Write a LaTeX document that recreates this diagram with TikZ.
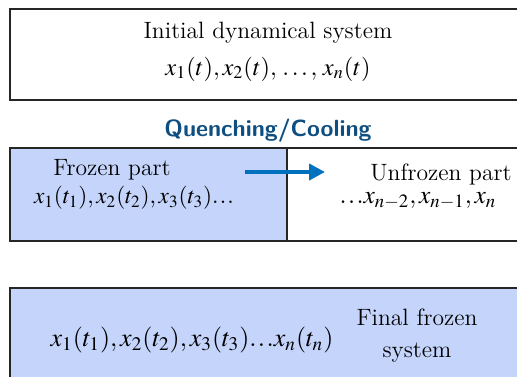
\documentclass[tikz,border=0pt]{standalone}
\usepackage{mathptmx}
\renewcommand{\rmdefault}{cmr}
\usetikzlibrary{arrows.meta,positioning}
\definecolor{titleblue}{RGB}{14,78,128}
\definecolor{arrowblue}{RGB}{0,114,189}
\definecolor{frozenfill}{RGB}{196,212,250}
\newcommand{\tightdots}{{.}\mkern1mu{.}\mkern1mu{.}}
\tikzset{
  frame/.style={draw=black!85, line width=0.9pt},
  txt/.style={inner sep=0pt, font=\fontsize{11.8}{13}\selectfont},
  mth/.style={inner sep=0pt, font=\fontsize{#1}{15}\selectfont},
}
\begin{document}
\begin{tikzpicture}[x=0.5pt,y=-0.5pt]
  \clip (0,0) rectangle (517,376);
  % boxes
  \draw[frame] (10,9) rectangle (540,100);
  \draw[frame, fill=frozenfill] (10,148) rectangle (287,241);
  \draw[frame] (287,148) rectangle (540,241);
  \draw[frame, fill=frozenfill] (10,288) rectangle (540,400);
  % texts
  \node[txt] (init) at (268,33) {Initial dynamical system};
  \node[mth=12.2] (initvars) at (268,69) {$x_1(t), x_2(t),\, \ldots,\, x_n(t)$};
  \node[inner sep=0pt, text=titleblue, font=\fontsize{11.7}{14}\sffamily\bfseries] (quench) at (268,131) {Quenching/Cooling};
  \node[txt] (frozen) at (112,170) {Frozen part};
  \node[mth=11.6] (frozenvars) at (134,198) {$x_1(t_1), x_2(t_2), x_3(t_3)\tightdots$};
  \node[txt] (unfrozen) at (441,174) {Unfrozen part};
  \node[mth=12.7] (unfrozenvars) at (418,201) {$\tightdots x_{n-2}, x_{n-1}, x_n$};
  \node[mth=13] (finalvars) at (192,340) {$x_1(t_1), x_2(t_2), x_3(t_3)\tightdots x_n(t_n)$};
  \node[txt, align=center] (final) at (417,336) {Final frozen\\[3pt]system};
  % arrow
  \coordinate (a0) at (245,172);
  \coordinate (a1) at (325,172);
  \draw[arrowblue, line width=2pt, -{Triangle[length=8pt,width=8pt]}] (a0) -- (a1);
\end{tikzpicture}
\end{document}
